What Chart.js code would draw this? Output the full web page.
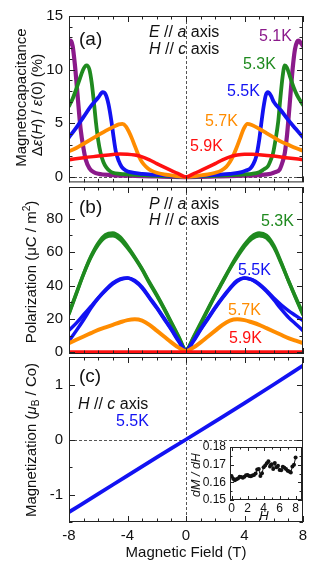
<!DOCTYPE html>
<html>
<head>
<meta charset="utf-8">
<script src="https://cdn.jsdelivr.net/npm/chart.js@4.4.1/dist/chart.umd.min.js"></script>
<style>
  html, body { margin: 0; background: #fff; }
  #wrap { position: relative; width: 316px; height: 567px; }
  #wrap canvas { position: absolute; left: 0; top: 0; }
</style>
</head>
<body>
<div id="wrap">
  <canvas id="ca" width="316" height="567"></canvas>
  <canvas id="cb" width="316" height="567"></canvas>
  <canvas id="cc" width="316" height="567"></canvas>
  <canvas id="ci" width="316" height="567"></canvas>
</div>
<script>
// ----- datos -----
const xTicks = [-8, -4, 0, 4, 8];

// (a) magnetocapacitancia (%)
const aTicks = [0, 5, 10, 15];
const aH51 = [-8, -7.88, -7.75, -7.6, -7.5, -7.35, -7.2, -7, -6.85, -6.6, -6.3, -6, -5, -4, -3, -2, -1, 0, 1, 2, 3, 4, 5, 5.8, 6.1, 6.4, 6.6, 6.75, 6.9, 7, 7.15, 7.3, 7.45, 7.6, 7.7, 7.85, 8];
const aV51 = [12.4, 12.7, 12.2, 10.5, 9.0, 6.6, 4.4, 2.6, 1.6, 0.8, 0.45, 0.3, 0.18, 0.12, 0.08, 0.05, 0.02, 0, 0.02, 0.05, 0.08, 0.12, 0.18, 0.3, 0.45, 0.7, 1.4, 2.2, 3.8, 5.3, 7.8, 10.2, 11.9, 12.6, 12.7, 12.5, 12.2];
const aH53 = [-8, -7.75, -7.5, -7.25, -7, -6.8, -6.6, -6.45, -6.3, -6.15, -6, -5.85, -5.65, -5.45, -5.2, -5, -4.5, -4, -3, -2, -1, 0, 1, 2, 3, 4, 4.5, 5, 5.3, 5.6, 5.8, 5.95, 6.1, 6.3, 6.45, 6.6, 6.75, 6.9, 7.1, 7.35, 7.6, 8];
const aV53 = [6.6, 7.3, 8.2, 9.2, 10.1, 10.4, 10.0, 8.8, 7.0, 5.0, 3.4, 2.3, 1.4, 0.9, 0.55, 0.4, 0.3, 0.25, 0.18, 0.12, 0.06, 0, 0.06, 0.12, 0.18, 0.25, 0.3, 0.45, 0.7, 1.0, 1.6, 2.2, 3.3, 5.1, 7.3, 9.3, 10.4, 10.2, 9.4, 8.4, 7.6, 6.7];
const aH55 = [-8, -7.5, -7, -6.5, -6, -5.7, -5.5, -5.3, -5.1, -4.95, -4.8, -4.6, -4.4, -4.1, -3.8, -3, -2, -1, 0, 1, 2, 3, 3.8, 4.1, 4.4, 4.6, 4.8, 5, 5.15, 5.3, 5.45, 5.6, 5.8, 6, 6.5, 7, 7.5, 8];
const aV55 = [3.7, 4.6, 5.6, 6.6, 7.4, 7.9, 7.7, 6.8, 5.2, 3.7, 2.4, 1.5, 0.95, 0.6, 0.45, 0.3, 0.2, 0.1, 0, 0.1, 0.2, 0.3, 0.45, 0.6, 0.8, 1.2, 1.9, 3.4, 5.0, 6.5, 7.6, 7.9, 7.6, 7.0, 6.2, 5.3, 4.5, 3.7];
const aH57 = [-8, -7.5, -7, -6.5, -6, -5.5, -5, -4.6, -4.35, -4.1, -3.9, -3.7, -3.5, -3.3, -3.1, -2.9, -2.6, -2.3, -2, -1.5, -1, -0.5, 0, 0.5, 1, 1.5, 2, 2.4, 2.75, 3, 3.2, 3.45, 3.7, 3.95, 4.2, 4.5, 5, 5.5, 6, 6.5, 7, 7.5, 8];
const aV57 = [2.4, 2.7, 3.1, 3.5, 3.9, 4.3, 4.65, 4.9, 4.95, 4.7, 4.2, 3.6, 2.9, 2.2, 1.6, 1.2, 0.8, 0.55, 0.4, 0.25, 0.15, 0.06, 0, 0.06, 0.15, 0.25, 0.4, 0.6, 0.95, 1.4, 1.9, 2.7, 3.6, 4.5, 4.95, 4.85, 4.5, 4.1, 3.7, 3.3, 3.0, 2.7, 2.45];
const aH59 = [-8, -7, -6, -5, -4.5, -4, -3.5, -3, -2.5, -2, -1.5, -1, -0.5, 0, 0.5, 1, 1.5, 2, 2.5, 3, 3.5, 4, 4.5, 5, 6, 7, 8];
const aV59 = [1.62, 1.8, 1.95, 2.1, 2.15, 2.13, 2.05, 1.88, 1.6, 1.25, 0.92, 0.6, 0.3, 0, 0.3, 0.6, 0.92, 1.25, 1.6, 1.88, 2.05, 2.13, 2.13, 2.08, 1.95, 1.78, 1.62];

// (b) polarización (µC/m²), dos barridos para 5.3K y 5.5K
const bTicks = [0, 20, 40, 60, 80];
const bH = [-8, -7.5, -7, -6.5, -6, -5.5, -5, -4.5, -4, -3.5, -3, -2.5, -2, -1.5, -1, -0.5, 0, 0.5, 1, 1.5, 2, 2.5, 3, 3.5, 4, 4.5, 5, 5.5, 6, 6.5, 7, 7.5, 8];
const bV53a = [23, 35, 47, 57.5, 65.5, 70.5, 71.5, 69, 63.5, 57, 50, 42, 34.5, 26.5, 18, 9.5, 1.5, 9, 17.5, 26, 34.5, 42.5, 50.5, 58, 64.5, 69.5, 71.5, 70, 64, 54, 43, 32.5, 22.5];
const bV53b = [23.5, 35.5, 47, 57, 64.5, 69, 69.8, 67.5, 62.5, 56.5, 49.5, 41.5, 34, 26, 17.5, 9, 1.2, 8.5, 17, 25.5, 34, 42, 50, 57, 63.5, 68, 69.8, 68.5, 63, 53.5, 43, 33, 23];
const bV55a = [6.8, 13, 19.5, 26.5, 32.5, 37.5, 41.5, 44, 44.5, 42.5, 38.5, 32.5, 26.5, 20, 13.5, 6.5, 1, 6.5, 13.5, 20, 26.5, 32.5, 38, 42.5, 44.5, 43.5, 41, 37, 32.5, 28.5, 25, 22, 19];
const bV55b = [13.2, 17.5, 22.5, 27.5, 32.5, 37, 41, 43.5, 44.5, 43, 39, 33, 27, 20.5, 14, 7, 1, 7, 14, 20.5, 27, 33, 38.5, 43, 44.5, 43.5, 40.5, 36.5, 31.5, 26, 21, 17, 13];
const bV57 = [5.5, 7.5, 9.5, 11.5, 13.5, 15, 16.5, 18, 19.3, 19.8, 19, 16.5, 13, 9.5, 6, 2.8, 0.8, 2.8, 6, 9.5, 13, 16.5, 19, 19.8, 19.3, 18, 16.5, 14.5, 12.5, 10.5, 8.5, 7, 5.5];
const bH59 = [-8, 8];
const bV59 = [0, 0];

// (c) magnetización (µB/Co) a 5.5K
const cTicks = [-1, 0, 1];
const cH = [-8, -6, -4, -2, 0, 2, 4, 6, 8];
const cV = [-1.32, -0.99, -0.655, -0.325, 0, 0.33, 0.662, 1.0, 1.345];

// recuadro dM/dH
const iTicksX = [0, 2, 4, 6, 8];
const iTicksY = [0.15, 0.16, 0.17, 0.18];
const iH = [0, 0.2, 0.4, 0.6, 0.8, 1, 1.2, 1.4, 1.6, 1.8, 2, 2.2, 2.4, 2.6, 2.8, 3, 3.2, 3.4, 3.6, 3.8, 4, 4.2, 4.4, 4.6, 4.8, 5, 5.2, 5.4, 5.6, 5.8, 6, 6.2, 6.4, 6.6, 6.8, 7, 7.2, 7.4, 7.6, 7.8, 8];
const iV = [0.1635, 0.1620, 0.1612, 0.1618, 0.1622, 0.1632, 0.1630, 0.1626, 0.1632, 0.1640, 0.1642, 0.1636, 0.1634, 0.1638, 0.1642, 0.1650, 0.1672, 0.1675, 0.1636, 0.1652, 0.1686, 0.1695, 0.1708, 0.1720, 0.1690, 0.1702, 0.1675, 0.1710, 0.1686, 0.1694, 0.1670, 0.1668, 0.1688, 0.1682, 0.1676, 0.1666, 0.1662, 0.1656, 0.1690, 0.1700, 0.1740];

// ----- estilos -----
const FONT = '"Liberation Sans", Arial, Helvetica, sans-serif';
Chart.defaults.font.family = FONT;
Chart.defaults.color = '#111';
const PURPLE = '#8b1a8b', GREEN = '#1f8a1f', BLUE = '#1212f2', ORANGE = '#ff8c00', RED = '#ff1010';

const pts = (hs, vs) => hs.map((h, i) => ({ x: h, y: vs[i] }));
const curve = (hs, vs, color, w) => ({
  data: pts(hs, vs), borderColor: color, borderWidth: w, pointRadius: 0,
  cubicInterpolationMode: 'monotone', fill: false, borderCapStyle: 'round', borderJoinStyle: 'round',
});

// texto con cursiva / subíndice / superíndice
function rich(ctx, t) {
  ctx.save();
  ctx.translate(t.x, t.y);
  if (t.rot) ctx.rotate(t.rot);
  ctx.fillStyle = t.color || '#111';
  ctx.textBaseline = 'middle';
  const fontOf = (st, sz) => (st === 'i' || t.italic ? 'italic ' : '') + sz + 'px ' + FONT;
  const parts = t.segs.map((s) => {
    const [txt, st] = typeof s === 'string' ? [s] : s;
    const sz = st === 'sub' || st === 'sup' ? t.size * 0.68 : t.size;
    ctx.font = fontOf(st, sz);
    return { txt, st, sz, w: ctx.measureText(txt).width };
  });
  const total = parts.reduce((s, p) => s + p.w, 0);
  let cx = t.center ? -total / 2 : 0;
  parts.forEach((p) => {
    ctx.font = fontOf(p.st, p.sz);
    const dy = p.st === 'sub' ? t.size * 0.28 : p.st === 'sup' ? -t.size * 0.32 : 0;
    ctx.fillText(p.txt, cx, dy);
    cx += p.w;
  });
  ctx.restore();
}

function marks(scale, majors, step) {
  const out = [];
  for (let n = Math.ceil(scale.min / step - 1e-6); n <= Math.floor(scale.max / step + 1e-6); n++) {
    const v = n * step;
    out.push([v, majors.some((m) => Math.abs(m - v) < step / 100)]);
  }
  return out;
}

// marco, ticks hacia dentro, líneas a trazos en cero y rótulos
const frame = {
  id: 'frame',
  beforeDraw(chart, args, o) {
    if (!o.bg) return;
    const { ctx, chartArea: a } = chart;
    ctx.save();
    ctx.fillStyle = o.bg;
    ctx.fillRect(a.left, a.top, a.right - a.left, a.bottom - a.top);
    ctx.restore();
  },
  beforeDatasetsDraw(chart, args, o) {
    const { ctx, chartArea: a, scales: { x, y } } = chart;
    ctx.save();
    ctx.strokeStyle = '#555';
    ctx.lineWidth = 1;
    ctx.setLineDash([3, 2]);
    ctx.beginPath();
    if (o.zeroX) {
      const px = Math.round(x.getPixelForValue(0)) + 0.5;
      ctx.moveTo(px, a.top); ctx.lineTo(px, a.bottom);
    }
    if (o.zeroY) {
      const py = Math.round(y.getPixelForValue(0)) + 0.5;
      ctx.moveTo(a.left, py); ctx.lineTo(a.right, py);
    }
    ctx.stroke();
    ctx.restore();
  },
  afterDatasetsDraw(chart, args, o) {
    const { ctx, chartArea: a, scales: { x, y } } = chart;
    ctx.save();
    ctx.strokeStyle = '#222';
    ctx.lineWidth = 1;
    ctx.strokeRect(a.left + 0.5, a.top + 0.5, a.right - a.left - 1, a.bottom - a.top - 1);
    ctx.beginPath();
    marks(x, o.xTicks, o.xMinor).forEach(([v, major]) => {
      const px = Math.round(x.getPixelForValue(v)) + 0.5, L = major ? o.major : o.minor;
      ctx.moveTo(px, a.bottom); ctx.lineTo(px, a.bottom - L);
      ctx.moveTo(px, a.top); ctx.lineTo(px, a.top + L);
    });
    marks(y, o.yTicks, o.yMinor).forEach(([v, major]) => {
      const py = Math.round(y.getPixelForValue(v)) + 0.5, L = major ? o.major : o.minor;
      ctx.moveTo(a.left, py); ctx.lineTo(a.left + L, py);
      ctx.moveTo(a.right, py); ctx.lineTo(a.right - L, py);
    });
    ctx.stroke();
    ctx.restore();
  },
  afterDraw(chart, args, o) {
    (o.texts || []).forEach((t) => rich(chart.ctx, t));
  },
};

function panel(id, datasets, p) {
  return new Chart(document.getElementById(id), {
    type: 'line',
    data: { datasets },
    options: {
      responsive: false, animation: false, events: [],
      layout: { padding: p.pad },
      scales: {
        x: {
          type: 'linear', min: p.x[0], max: p.x[1], display: !!p.xShow,
          afterBuildTicks: (s) => { s.ticks = p.xTicks.map((v) => ({ value: v })); },
          afterFit: (s) => { s.height = p.xH || 0; },
          grid: { display: false, drawTicks: false }, border: { display: false },
          ticks: { autoSkip: false, maxRotation: 0, padding: p.xPad || 0, font: { size: p.fs } },
          title: p.xTitle
            ? { display: true, text: p.xTitle, padding: 0, font: { size: 15 }, color: '#111' }
            : { display: false },
        },
        y: {
          type: 'linear', min: p.y[0], max: p.y[1],
          afterBuildTicks: (s) => { s.ticks = p.yTicks.map((v) => ({ value: v })); },
          afterFit: (s) => { s.width = p.yW; },
          grid: { display: false, drawTicks: false }, border: { display: false },
          ticks: { autoSkip: false, padding: p.yPad, font: { size: p.fs } },
        },
      },
      plugins: {
        legend: { display: false }, tooltip: { enabled: false },
        frame: { xTicks: p.xTicks, yTicks: p.yTicks, ...p.frame },
      },
    },
    plugins: [frame],
  });
}

const UP = -Math.PI / 2;

// ----- (a) -----
panel('ca', [
  curve(aH59, aV59, RED, 3.5),
  curve(aH57, aV57, ORANGE, 3.8),
  curve(aH55, aV55, BLUE, 3.8),
  curve(aH53, aV53, GREEN, 3.8),
  curve(aH51, aV51, PURPLE, 4.2),
], {
  pad: { left: 0, right: 13, top: 16, bottom: 384.6 },
  x: [-8, 8], xTicks, y: [-0.5, 15], yTicks: aTicks, yW: 69, yPad: 6, fs: 15,
  frame: {
    xMinor: 1, yMinor: 1, major: 6, minor: 3.5, zeroX: true, zeroY: true,
    texts: [
      { x: 79, y: 40, size: 19, segs: ['(a)'] },
      { x: 149, y: 33, size: 16, segs: [['E', 'i'], ' // ', ['a', 'i'], ' axis'] },
      { x: 149, y: 50, size: 16, segs: [['H', 'i'], ' // ', ['c', 'i'], ' axis'] },
      { x: 259, y: 36.5, size: 16, color: PURPLE, segs: ['5.1K'] },
      { x: 243, y: 65, size: 16, color: GREEN, segs: ['5.3K'] },
      { x: 227, y: 91.5, size: 16, color: BLUE, segs: ['5.5K'] },
      { x: 205, y: 122, size: 16, color: ORANGE, segs: ['5.7K'] },
      { x: 190, y: 147, size: 16, color: RED, segs: ['5.9K'] },
      { x: 22, y: 97.5, size: 15, rot: UP, center: true, segs: ['Magnetocapacitance'] },
      { x: 37.5, y: 105, size: 15, rot: UP, center: true,
        segs: ['Δ', ['ε', 'i'], '(', ['H', 'i'], ') / ', ['ε', 'i'], '(0) (%)'] },
    ],
  },
});

// ----- (b) -----
panel('cb', [
  curve(bH59, bV59, RED, 4),
  curve(bH, bV57, ORANGE, 4),
  curve(bH, bV55a, BLUE, 3.5),
  curve(bH, bV55b, BLUE, 3.5),
  curve(bH, bV53a, GREEN, 3.5),
  curve(bH, bV53b, GREEN, 3.5),
], {
  pad: { left: 0, right: 13, top: 187, bottom: 213 },
  x: [-8, 8], xTicks, y: [-1, 99], yTicks: bTicks, yW: 69, yPad: 6, fs: 15,
  frame: {
    xMinor: 1, yMinor: 10, major: 6, minor: 3.5, zeroX: true,
    texts: [
      { x: 79, y: 208, size: 19, segs: ['(b)'] },
      { x: 149, y: 205, size: 16, segs: [['P', 'i'], ' // ', ['a', 'i'], ' axis'] },
      { x: 149, y: 221, size: 16, segs: [['H', 'i'], ' // ', ['c', 'i'], ' axis'] },
      { x: 261, y: 222, size: 16, color: GREEN, segs: ['5.3K'] },
      { x: 238, y: 271, size: 16, color: BLUE, segs: ['5.5K'] },
      { x: 228, y: 311, size: 16, color: ORANGE, segs: ['5.7K'] },
      { x: 229, y: 339, size: 16, color: RED, segs: ['5.9K'] },
      { x: 32, y: 272, size: 15, rot: UP, center: true, segs: ['Polarization (μC / m', ['2', 'sup'], ')'] },
    ],
  },
});

// ----- (c) -----
panel('cc', [
  curve(cH, cV, BLUE, 3.8),
], {
  pad: { left: 0, right: 13, top: 357, bottom: 5 },
  x: [-8, 8], xTicks, xShow: true, xH: 40, xPad: 5, xTitle: 'Magnetic Field (T)',
  y: [-1.5, 1.5], yTicks: cTicks, yW: 69, yPad: 6, fs: 15,
  frame: {
    xMinor: 1, yMinor: 0.5, major: 6, minor: 3.5, zeroX: true, zeroY: true,
    texts: [
      { x: 79, y: 377, size: 19, segs: ['(c)'] },
      { x: 78, y: 405, size: 16, segs: [['H', 'i'], ' // ', ['c', 'i'], ' axis'] },
      { x: 116, y: 422, size: 16, color: BLUE, segs: ['5.5K'] },
      { x: 32, y: 440, size: 15, rot: UP, center: true,
        segs: ['Magnetization (', ['μ', 'i'], ['B', 'sub'], ' / Co)'] },
    ],
  },
});

// ----- recuadro dM/dH -----
panel('ci', [{
  data: pts(iH, iV), borderColor: '#111', borderWidth: 1, pointRadius: 2,
  pointBackgroundColor: '#111', pointBorderWidth: 0, tension: 0, fill: false,
}], {
  pad: { left: 186, right: 14, top: 447, bottom: 47 },
  x: [-0.2, 8.8], xTicks: iTicksX, xShow: true, xH: 20, xPad: 1,
  y: [0.15, 0.18], yTicks: iTicksY, yW: 44, yPad: 4, fs: 12,
  frame: {
    bg: '#fff', xMinor: 1, yMinor: 0.005, major: 4, minor: 2.5,
    texts: [
      { x: 197, y: 475, size: 12.5, rot: UP, center: true, italic: true, segs: ['dM / dH'] },
      { x: 264, y: 516, size: 13, center: true, segs: [['H', 'i']] },
    ],
  },
});
</script>
</body>
</html>
